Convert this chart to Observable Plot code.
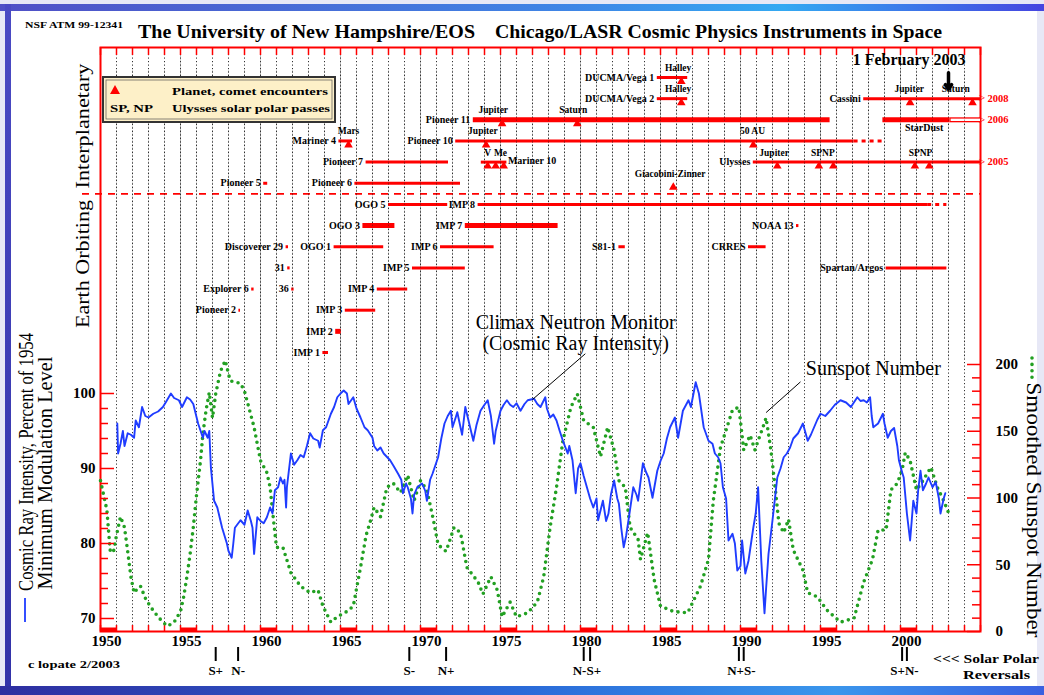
<!DOCTYPE html>
<html><head><meta charset="utf-8">
<script src="https://cdn.jsdelivr.net/npm/d3@7"></script>
<script src="https://cdn.jsdelivr.net/npm/@observablehq/plot@0.6"></script>
<style>
body{margin:0;width:1044px;height:695px;position:relative;overflow:hidden;background:#e7e8f6;font-family:"Liberation Serif","DejaVu Serif",serif}
.layer{position:absolute;left:0;top:0;width:1044px;height:695px;max-width:none!important}
</style></head><body>
<div style="position:absolute;left:0;top:4px;width:1044px;height:7px;background:linear-gradient(90deg,#5050c6,#3f86e6 55%,#34a9f2 75%,#4545e0)"></div>
<div style="position:absolute;left:5px;top:4px;width:6px;height:691px;background:linear-gradient(180deg,#4a4ac4,#3232a8)"></div>
<div style="position:absolute;left:0;top:686px;width:1044px;height:9px;background:linear-gradient(90deg,#2e2ea0,#2a6ad8 50%,#3a96ec 80%,#3a60e0)"></div>
<div style="position:absolute;left:11px;top:11px;width:1026px;height:675px;background:#fff"></div>
<div id="chart" class="layer"></div>
<script>
// ---------------- DATA ----------------
const cosmicRay = [[1951.05,96],[1951.1,92],[1951.25,93.3],[1951.4,95],[1951.5,93],[1951.7,94.7],[1951.9,94.5],[1952.1,94.1],[1952.2,96.4],[1952.4,95.5],[1952.6,98.2],[1952.8,97],[1953.0,96.8],[1953.3,97.3],[1953.6,97.6],[1953.9,98.2],[1954.1,98.9],[1954.4,100],[1954.6,99.4],[1954.9,99.1],[1955.1,98.2],[1955.4,99.5],[1955.6,99.2],[1955.8,98.6],[1956.1,96],[1956.4,94.1],[1956.5,95],[1956.7,94.1],[1956.8,95],[1956.9,90.1],[1957.1,85.7],[1957.3,84.8],[1957.6,82.1],[1957.9,80.0],[1958.0,79],[1958.2,78.1],[1958.3,80],[1958.4,82.1],[1958.75,83.1],[1959.0,82.5],[1959.2,84.4],[1959.4,83],[1959.5,82.1],[1959.6,78.6],[1959.8,83.5],[1960.0,83],[1960.2,82.7],[1960.4,83.5],[1960.6,84.8],[1960.75,84],[1960.9,87.1],[1961.1,87.5],[1961.25,88.8],[1961.4,88],[1961.5,88.5],[1961.6,84.8],[1961.65,87.5],[1961.9,92],[1962.1,90.5],[1962.3,91.1],[1962.5,91.8],[1962.7,91.5],[1962.9,93],[1963.1,94.7],[1963.3,94],[1963.6,93.7],[1963.7,92.8],[1963.9,95.1],[1964.1,95.5],[1964.4,97.3],[1964.6,98.2],[1964.8,99.5],[1965.0,100],[1965.2,100.4],[1965.4,100],[1965.5,98.6],[1965.8,99.5],[1966.0,98],[1966.25,96.8],[1966.5,95.5],[1966.7,95.1],[1967.0,94.1],[1967.1,93],[1967.3,92.4],[1967.5,92.8],[1967.7,92],[1968.1,91.1],[1968.3,90.4],[1968.6,89.3],[1968.8,88.5],[1968.9,86.7],[1969.1,88],[1969.2,87.5],[1969.4,86],[1969.5,84],[1969.6,86.5],[1969.8,87.5],[1970.1,88],[1970.3,87],[1970.4,85.7],[1970.6,88.5],[1970.75,89.3],[1971.1,91.5],[1971.3,94],[1971.5,96],[1971.7,97],[1971.9,97.7],[1972.0,95.5],[1972.2,96.8],[1972.3,97.5],[1972.5,95.5],[1972.6,94.5],[1972.8,98.2],[1973.1,95.5],[1973.3,93.7],[1973.5,95.8],[1973.75,97.7],[1974.0,98.5],[1974.2,99.1],[1974.4,97],[1974.6,93.3],[1974.7,95],[1975.0,97.7],[1975.2,98.5],[1975.4,99.1],[1975.6,98.5],[1975.8,98.2],[1976.0,98.7],[1976.25,97.7],[1976.5,98.6],[1976.7,99.1],[1977.1,99.3],[1977.3,98.6],[1977.5,98.2],[1977.8,99.5],[1977.9,98],[1978.1,96.8],[1978.3,97.2],[1978.5,96.4],[1978.7,95],[1978.9,93.7],[1979.2,92],[1979.3,93],[1979.5,91.1],[1979.7,86.7],[1979.85,90],[1980.0,90.7],[1980.2,89],[1980.4,87.5],[1980.6,86],[1980.8,84.8],[1981.0,86],[1981.1,83.1],[1981.4,85.7],[1981.6,83],[1981.75,84],[1981.9,86.5],[1982.1,88.4],[1982.3,86],[1982.4,85.3],[1982.55,82],[1982.7,79.5],[1982.85,81],[1983.0,83.1],[1983.3,87.5],[1983.5,86.5],[1983.6,85.7],[1983.9,90.7],[1984.1,89.5],[1984.25,88.8],[1984.5,86.1],[1984.8,89.7],[1985.0,91],[1985.2,92],[1985.4,94],[1985.6,95.5],[1985.9,96.8],[1986.1,94.1],[1986.4,97.7],[1986.75,99.1],[1986.9,98.2],[1987.2,101.5],[1987.4,100],[1987.5,98.5],[1987.7,95.5],[1988.0,93.7],[1988.25,93.3],[1988.4,92],[1988.6,91.5],[1988.75,90.7],[1988.9,87.5],[1989.1,86],[1989.25,80.4],[1989.5,81.3],[1989.65,80],[1989.8,76.4],[1990.0,77],[1990.1,80.4],[1990.3,76],[1990.5,77.7],[1990.8,82.1],[1990.95,84],[1991.1,87.5],[1991.3,77.7],[1991.5,70.7],[1991.6,74],[1991.75,78.6],[1992.0,83.1],[1992.3,88.8],[1992.5,90],[1992.7,91.5],[1992.9,92],[1993.1,92.8],[1993.3,94],[1993.6,94.7],[1993.9,96],[1994.2,93.7],[1994.4,94.5],[1994.6,95.5],[1994.8,96.5],[1995.0,97.3],[1995.3,97],[1995.6,97.7],[1995.9,98.5],[1996.25,99.1],[1996.6,98.8],[1996.9,98.2],[1997.3,99.5],[1997.5,99],[1997.7,99.1],[1997.9,98.8],[1998.1,99.5],[1998.2,97],[1998.3,95.5],[1998.6,96],[1998.9,97.3],[1999.0,96],[1999.2,94.1],[1999.4,95],[1999.6,95.4],[1999.8,93],[1999.9,91.1],[2000.1,89.5],[2000.2,88.8],[2000.4,84],[2000.6,80.4],[2000.7,83],[2000.8,85.7],[2001.0,84],[2001.1,87],[2001.25,89.7],[2001.4,87.1],[2001.6,88],[2001.75,88.8],[2002.0,87.5],[2002.2,88.2],[2002.4,86],[2002.5,84],[2002.7,86],[2002.8,86.7]];

const sunspots = [[1950.0,113],[1950.2,102],[1950.4,91],[1950.6,61],[1950.8,59],[1951.0,72],[1951.25,86],[1951.5,78],[1951.7,60],[1951.9,41],[1952.1,29],[1952.3,32],[1952.5,34],[1952.8,25],[1953.1,19],[1953.4,14],[1953.75,9],[1954.0,6],[1954.2,4],[1954.6,7],[1955.0,15],[1955.2,26],[1955.4,41],[1955.6,58],[1955.8,78],[1956.0,102],[1956.25,128],[1956.4,148],[1956.6,166],[1956.8,179],[1957.0,160],[1957.2,178],[1957.5,195],[1957.8,203],[1958.1,188],[1958.3,187],[1958.75,186],[1959.0,180],[1959.2,171],[1959.6,153],[1960.0,128],[1960.4,119],[1960.6,108],[1960.8,85],[1961.0,63],[1961.4,63],[1961.9,44],[1962.5,34],[1963.1,29],[1963.6,31],[1963.9,19],[1964.4,7],[1964.8,11],[1965.4,15],[1965.8,19],[1966.25,48],[1966.6,72],[1966.9,84],[1967.1,93],[1967.5,86],[1967.9,108],[1968.3,111],[1968.75,104],[1969.2,117],[1969.6,98],[1970.0,113],[1970.4,106],[1970.8,84],[1971.1,65],[1971.6,60],[1972.1,78],[1972.5,74],[1972.9,48],[1973.6,37],[1973.9,28],[1974.4,41],[1974.8,31],[1975.1,11],[1975.6,22],[1976.0,11],[1976.7,14],[1977.3,22],[1977.7,41],[1978.1,78],[1978.5,108],[1978.9,143],[1979.4,168],[1979.8,178],[1980.2,158],[1980.8,153],[1981.25,131],[1981.7,153],[1982.1,136],[1982.4,113],[1982.8,108],[1983.1,78],[1983.6,69],[1983.75,54],[1984.2,74],[1984.6,39],[1985.0,19],[1985.8,15],[1986.7,14],[1987.5,34],[1988.0,54],[1988.3,98],[1988.75,138],[1989.05,149],[1989.5,166],[1989.9,168],[1990.2,136],[1990.6,147],[1990.9,136],[1991.4,153],[1991.6,160],[1991.9,136],[1992.2,104],[1992.4,81],[1992.7,74],[1993.0,84],[1993.3,61],[1993.9,46],[1994.2,29],[1994.8,26],[1995.4,16],[1996.25,7],[1997.1,10],[1997.7,37],[1998.25,54],[1998.6,76],[1999.1,76],[1999.4,106],[1999.8,111],[2000.1,121],[2000.3,134],[2000.6,128],[2001.0,106],[2001.4,113],[2001.9,123],[2002.3,108],[2002.7,98],[2003.0,89]];

// lane 0-5: interplanetary, 6-13: earth orbiting
const missions = [
 {name:"DUCMA/Vega 1",start:1984.8,end:1986.7,lane:0},
 {name:"DUCMA/Vega 2",start:1984.8,end:1986.7,lane:1},
 {name:"Cassini",start:1997.7,end:2005,lane:1},
 {name:"Pioneer 11",start:1973.3,end:1995.6,lane:2},
 {name:"StarDust",start:1998.9,end:2003.1,lane:2},
 {name:"Pioneer 10",start:1972.2,end:1997.1,lane:3},
 {name:"Mariner 4",start:1964.9,end:1965.75,lane:3},
 {name:"Pioneer 7",start:1966.6,end:1971.75,lane:4},
 {name:"Mariner 10",start:1973.8,end:1975.4,lane:4},
 {name:"Ulysses",start:1990.8,end:2005,lane:4},
 {name:"Pioneer 6",start:1965.9,end:1972.5,lane:5},
 {name:"Pioneer 5",start:1960.2,end:1960.45,lane:5},
 {name:"OGO 5",start:1968.0,end:1971.7,lane:6},
 {name:"IMP 8",start:1973.6,end:2001.7,lane:6},
 {name:"OGO 3",start:1966.4,end:1968.4,lane:7},
 {name:"IMP 7",start:1972.8,end:1978.6,lane:7},
 {name:"NOAA 13",start:1993.5,end:1993.65,lane:7},
 {name:"Discoverer 29",start:1961.6,end:1961.75,lane:8},
 {name:"OGO 1",start:1964.6,end:1967.7,lane:8},
 {name:"IMP 6",start:1971.25,end:1974.6,lane:8},
 {name:"S81-1",start:1982.4,end:1982.8,lane:8},
 {name:"CRRES",start:1990.5,end:1991.6,lane:8},
 {name:"31",start:1961.7,end:1961.85,lane:9},
 {name:"IMP 5",start:1969.5,end:1972.8,lane:9},
 {name:"Spartan/Argos",start:1999.1,end:2002.9,lane:9},
 {name:"Explorer 6",start:1959.45,end:1959.6,lane:10},
 {name:"36",start:1961.95,end:1962.1,lane:10},
 {name:"IMP 4",start:1967.3,end:1969.2,lane:10},
 {name:"Pioneer 2",start:1958.65,end:1958.75,lane:11},
 {name:"IMP 3",start:1965.3,end:1967.2,lane:11},
 {name:"IMP 2",start:1964.7,end:1965.05,lane:12},
 {name:"IMP 1",start:1963.9,end:1964.25,lane:13}
];
const extensions = [
 {name:"Pioneer 10",start:1997.1,end:1999.0,lane:3},
 {name:"IMP 8",start:2001.7,end:2002.9,lane:6}
];
const planned = [{name:"StarDust",start:2003.1,end:2005,lane:2}];
const continuing = [{lane:1,until:"2008"},{lane:2,until:"2006"},{lane:4,until:"2005"}];
const encounters = [
 {lane:0,year:1986.3},{lane:1,year:1986.3},{lane:1,year:2000.6},{lane:1,year:2004.5},
 {lane:2,year:1975.1},{lane:2,year:1979.8},{lane:3,year:1974.1},{lane:3,year:1990.8},{lane:3,year:1965.5},
 {lane:4,year:1974.2},{lane:4,year:1974.7},{lane:4,year:1975.2},
 {lane:4,year:1992.3},{lane:4,year:1994.9},{lane:4,year:1995.8},{lane:4,year:2000.9},{lane:4,year:2001.8},
 {lane:5,year:1985.8}
];
const encounterLabels = [
 {lane:0,year:1986.1,text:"Halley"},{lane:1,year:1986.1,text:"Halley"},
 {lane:1,year:2000.55,text:"Jupiter"},{lane:1,year:2003.45,text:"Saturn"},
 {lane:2,year:1974.55,text:"Jupiter"},{lane:2,year:1979.55,text:"Saturn"},
 {lane:3,year:1973.9,text:"Jupiter"},{lane:3,year:1990.75,text:"50 AU"},{lane:3,year:1965.5,text:"Mars"},
 {lane:4,year:1974.2,text:"V"},{lane:4,year:1975.0,text:"Me"},
 {lane:4,year:1992.1,text:"Jupiter"},{lane:4,year:1995.15,text:"SPNP"},{lane:4,year:2001.25,text:"SPNP"},
 {lane:5,year:1985.6,text:"Giacobini-Zinner"}
];
const reversals = [
 {year:1957.2,pole:"S+"},{year:1958.6,pole:"N-"},{year:1969.3,pole:"S-"},{year:1971.6,pole:"N+"},
 {year:1980.2,pole:"N-"},{year:1980.6,pole:"S+"},{year:1989.9,pole:"N+"},{year:1990.2,pole:"S-"},
 {year:2000.1,pole:"S+"},{year:2000.4,pole:"N-"}
];
const climaxNote = {lines:["Climax Neutron Monitor","(Cosmic Ray Intensity)"],year:1979.7,values:[109.5,106.7],from:[1977.0,99.2],to:[1980.3,105.3]};
const sunspotNote = {text:"Sunspot Number",year:1998.3,value:197,from:[1991.6,164],to:[1993.75,187]};
const yearLabels = [1950,1955,1960,1965,1970,1975,1980,1985,1990,1995,2000];
const crTicks = [70,80,90,100];
const ssnTicks = [0,50,100,150,200];

// ---------------- LAYOUT ----------------
const W=1044,H=695, FONT='"Liberation Serif","DejaVu Serif",serif';
const RED="#ff0000", BLUE="#1f3cff", GREEN="#22a022";
const M={marginLeft:100,marginRight:64,marginTop:47,marginBottom:64};
const frameW=W-M.marginLeft-M.marginRight, frameH=H-M.marginTop-M.marginBottom;
const common={width:W,height:H,...M,x:{domain:[1950,2005],axis:null},
  style:{background:"transparent",fontFamily:FONT,overflow:"visible",maxWidth:"none"}};
const allYears=d3.range(1950,2006), gridYears=d3.range(1951,2005), fives=d3.range(1950,2001,5);

const revLabels=[];
for(let i=0;i<reversals.length;i+=2){
  const a=reversals[i],b=reversals[i+1];
  if(b.year-a.year<1) revLabels.push({year:(a.year+b.year)/2,text:a.pole+b.pole});
  else {revLabels.push({year:a.year,text:a.pole});revLabels.push({year:b.year,text:b.pole});}
}

const plotSSN = Plot.plot({...common, y:{domain:[0,200],range:[631,364],axis:null},
 marks:[
  Plot.ruleX(fives.slice(1),{stroke:"#bbb",strokeWidth:0.8}),
  Plot.ruleX(gridYears,{stroke:"#333",strokeWidth:1,strokeDasharray:"1.2,2.3"}),
  Plot.ruleX(allYears,{stroke:RED,strokeWidth:1.5,insetBottom:frameH-8}),
  Plot.ruleX(allYears,{stroke:RED,strokeWidth:1.5,insetTop:frameH-6}),
  Plot.ruleY(fives,{y:()=>0,x1:d=>d,x2:d=>d+1,stroke:RED,strokeWidth:4,dy:-2}),
  Plot.frame({stroke:RED,strokeWidth:2}),
  Plot.ruleY(d3.range(0,201,10).filter(d=>d%50),{y:d=>d,stroke:RED,strokeWidth:1.5,insetLeft:frameW-8}),
  Plot.ruleY(ssnTicks,{y:d=>d,stroke:RED,strokeWidth:1.5,insetLeft:frameW-13}),
  Plot.text(ssnTicks,{y:d=>d,text:d=>String(d),frameAnchor:"right",dx:15,textAnchor:"start",fontSize:15,fontWeight:"bold"}),
  Plot.line(sunspots,{stroke:GREEN,strokeWidth:3.6,strokeDasharray:"0,6.4",strokeLinecap:"round"}),
  Plot.text([sunspotNote],{x:"year",y:"value",text:"text",fontSize:20}),
  Plot.link([sunspotNote],{x1:d=>d.from[0],y1:d=>d.from[1],x2:d=>d.to[0],y2:d=>d.to[1],stroke:"#000",strokeWidth:1}),
  Plot.text(yearLabels,{x:d=>d,text:d=>String(d),frameAnchor:"bottom",dy:14,dx:6,fontSize:15,fontWeight:"bold"}),
  Plot.ruleX(reversals,{x:"year",stroke:"#000",strokeWidth:2,insetTop:frameH+16,insetBottom:-30}),
  Plot.text(revLabels,{x:"year",text:"text",frameAnchor:"bottom",dy:43,fontSize:13,fontWeight:"bold"})
 ]});

const plotCR = Plot.plot({...common, y:{domain:[70,100],range:[618,393],axis:null},
 marks:[
  Plot.ruleY(d3.range(70,101,2).filter(d=>d%10),{y:d=>d,stroke:RED,strokeWidth:1.5,insetRight:frameW-8}),
  Plot.ruleY(crTicks,{y:d=>d,stroke:RED,strokeWidth:1.5,insetRight:frameW-14}),
  Plot.text(crTicks,{y:d=>d,text:d=>String(d),frameAnchor:"left",dx:-5,textAnchor:"end",fontSize:15,fontWeight:"bold"}),
  Plot.line(cosmicRay,{stroke:BLUE,strokeWidth:1.9}),
  Plot.text(climaxNote.lines,{x:()=>climaxNote.year,y:(d,i)=>climaxNote.values[i],text:d=>d,fontSize:20}),
  Plot.link([climaxNote],{x1:d=>d.from[0],y1:d=>d.from[1],x2:d=>d.to[0],y2:d=>d.to[1],stroke:"#000",strokeWidth:1})
 ]});

const thick = new Set(["Pioneer 11","StarDust","OGO 3","IMP 7","IMP 2"]);
const labelRight = new Set(["Mariner 10"]), labelBelow=new Set(["StarDust"]);
const plotMis = Plot.plot({...common, y:{domain:[0,13],range:[77,352],axis:null},
 marks:[
  Plot.ruleY([5.5],{y:d=>d,stroke:RED,strokeWidth:1.6,strokeDasharray:"7,6",insetLeft:-18}),
  Plot.ruleY(missions,{y:"lane",x1:"start",x2:"end",stroke:RED,strokeWidth:d=>thick.has(d.name)?5:3}),
  Plot.ruleY(extensions,{y:"lane",x1:"start",x2:"end",stroke:RED,strokeWidth:3,strokeDasharray:"4,4"}),
  Plot.ruleY(planned,{y:"lane",x1:"start",x2:"end",stroke:RED,strokeWidth:5}),
  Plot.ruleY(planned,{y:"lane",x1:"start",x2:"end",stroke:"#fff",strokeWidth:2.4,insetLeft:1}),
  Plot.ruleX(gridYears,{y1:-0.3,y2:13.3,stroke:"#222",strokeWidth:1,strokeDasharray:"1.2,2.3",strokeOpacity:0.5}),
  Plot.dot(encounters,{x:"year",y:"lane",symbol:"triangle",r:3.2,fill:RED,dy:4}),
  Plot.text(encounterLabels,{x:"year",y:d=>d.lane-0.45,text:"text",fontSize:9.5,fontWeight:"bold"}),
  Plot.text(missions.filter(d=>!labelRight.has(d.name)&&!labelBelow.has(d.name)),{x:"start",y:"lane",text:"name",textAnchor:"end",dx:-3,fontSize:10,fontWeight:"bold"}),
  Plot.text(missions.filter(d=>labelRight.has(d.name)),{x:"end",y:"lane",text:"name",textAnchor:"start",dx:1,dy:-1,fontSize:10,fontWeight:"bold"}),
  Plot.text(missions.filter(d=>labelBelow.has(d.name)),{x:"start",y:d=>d.lane+0.4,text:"name",textAnchor:"start",dx:22,fontSize:10,fontWeight:"bold"}),
  Plot.text(continuing,{x:()=>2005,y:"lane",text:()=>">",fill:RED,fontSize:12,textAnchor:"start",dx:-2}),
  Plot.text(continuing,{x:()=>2005,y:"lane",text:"until",fill:RED,fontSize:10.5,fontWeight:"bold",textAnchor:"start",dx:7}),
  Plot.text(["1 February 2003"],{x:()=>2003,y:()=>-0.82,text:d=>d,textAnchor:"end",dx:17,fontSize:16,fontWeight:"bold"}),
  Plot.arrow([2003],{x1:d=>d,x2:d=>d,y1:()=>-0.22,y2:()=>0.55,stroke:"#000",strokeWidth:3.5,headLength:9,headAngle:70})
 ]});

const chart=document.getElementById("chart");
for(const p of [plotSSN,plotCR,plotMis]){p.classList.add("layer");p.style.maxWidth="none";chart.appendChild(p);}

// ---------------- TITLES, SIDE LABELS, LEGEND ----------------
const ov=d3.create("svg").attr("width",W).attr("height",H).attr("class","layer").style("font-family",FONT);
function txt(x,y,s,o={}){
  const t=ov.append("text").attr("x",x).attr("y",y).attr("font-size",o.size||12)
   .attr("font-weight",o.weight||"bold").attr("text-anchor",o.anchor||"start").attr("fill",o.fill||"#000").text(s);
  if(o.len) t.attr("textLength",o.len).attr("lengthAdjust","spacingAndGlyphs");
  if(o.rotate) t.attr("transform",`rotate(${o.rotate},${x},${y})`);
  return t;
}
txt(25,28,"NSF ATM 99-12341",{size:9,len:98});
txt(138,38,"The University of New Hampshire/EOS",{size:19,len:337});
txt(495,38,"Chicago/LASR Cosmic Physics Instruments in Space",{size:19,len:447});
txt(33,462,"Cosmic Ray Intensity, Percent of 1954",{size:20,weight:"normal",anchor:"middle",len:258,rotate:-90});
txt(52,473,"Minimum Modulation Level",{size:20,weight:"normal",anchor:"middle",len:233,rotate:-90});
ov.append("line").attr("x1",25).attr("x2",25).attr("y1",598).attr("y2",622).attr("stroke",BLUE).attr("stroke-width",1.8);
txt(89,264,"Earth Orbiting",{size:19,weight:"normal",anchor:"middle",len:128,rotate:-90});
txt(89,126,"Interplanetary",{size:19,weight:"normal",anchor:"middle",len:125,rotate:-90});
txt(1027,510,"Smoothed Sunspot Number",{size:20,weight:"normal",anchor:"middle",len:255,rotate:90});
ov.append("line").attr("x1",1032).attr("x2",1032).attr("y1",358).attr("y2",380).attr("stroke",GREEN)
  .attr("stroke-width",3.6).attr("stroke-dasharray","0,6.4").attr("stroke-linecap","round");
txt(28,668,"c lopate 2/2003",{size:11,len:92});
txt(933,663,"<<< Solar Polar",{size:13,len:106});
txt(963,679,"Reversals",{size:13,len:67});
ov.append("rect").attr("x",103).attr("y",77).attr("width",232).attr("height",45).attr("fill","#fdf0c8").attr("stroke","#333").attr("stroke-width",2);
ov.append("rect").attr("x",106).attr("y",80).attr("width",226).attr("height",39).attr("fill","none").attr("stroke","#555").attr("stroke-width",0.7);
ov.append("path").attr("d","M115,85 L120,94 L110,94 Z").attr("fill",RED);
txt(172,95,"Planet, comet encounters",{size:11,len:156});
txt(110,112,"SP, NP",{size:11,len:43});
txt(172,112,"Ulysses solar polar passes",{size:11,len:158});
chart.appendChild(ov.node());
</script>
</body></html>
